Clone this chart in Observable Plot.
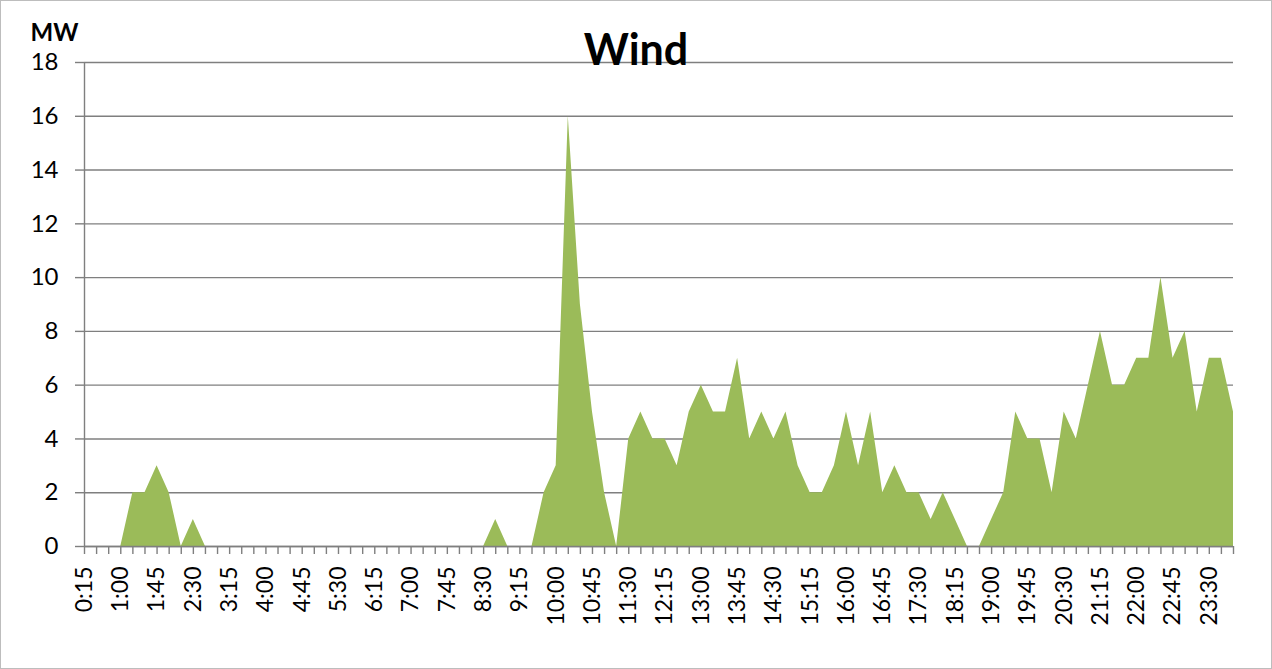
<!DOCTYPE html>
<html>
<head>
<meta charset="utf-8">
<script src="https://cdn.jsdelivr.net/npm/d3@7"></script>
<script src="https://cdn.jsdelivr.net/npm/@observablehq/plot@0.6"></script>
<style>
  html, body { margin: 0; padding: 0; background: #fff; }
  #wrap { position: relative; width: 1272px; height: 669px; overflow: hidden; }
  #border { position: absolute; left: 0; top: 0; width: 1270px; height: 667px; border: 1px solid #bdbdbd; pointer-events: none; }
  svg { display: block; }
</style>
</head>
<body>
<div id="wrap"><div id="chart"></div><div id="border"></div></div>
<script>
const title = "Wind";
const unitLabel = "MW";

const times = [
  "0:15","0:30","0:45","1:00","1:15","1:30","1:45","2:00","2:15","2:30","2:45","3:00",
  "3:15","3:30","3:45","4:00","4:15","4:30","4:45","5:00","5:15","5:30","5:45","6:00",
  "6:15","6:30","6:45","7:00","7:15","7:30","7:45","8:00","8:15","8:30","8:45","9:00",
  "9:15","9:30","9:45","10:00","10:15","10:30","10:45","11:00","11:15","11:30","11:45","12:00",
  "12:15","12:30","12:45","13:00","13:15","13:30","13:45","14:00","14:15","14:30","14:45","15:00",
  "15:15","15:30","15:45","16:00","16:15","16:30","16:45","17:00","17:15","17:30","17:45","18:00",
  "18:15","18:30","18:45","19:00","19:15","19:30","19:45","20:00","20:15","20:30","20:45","21:00",
  "21:15","21:30","21:45","22:00","22:15","22:30","22:45","23:00","23:15","23:30","23:45","24:00"
];

const windMW = [
  0,0,0,0,2,2,3,2,0,1,0,0,
  0,0,0,0,0,0,0,0,0,0,0,0,
  0,0,0,0,0,0,0,0,0,0,1,0,
  0,0,2,3,16,9,5,2,0,4,5,4,
  4,3,5,6,5,5,7,4,5,4,5,3,
  2,2,3,5,3,5,2,3,2,2,1,2,
  1,0,0,1,2,5,4,4,2,5,4,6,
  8,6,6,7,7,10,7,8,5,7,7,5
];

const xTickLabels = [
  "0:15","1:00","1:45","2:30","3:15","4:00","4:45","5:30","6:15","7:00","7:45","8:30",
  "9:15","10:00","10:45","11:30","12:15","13:00","13:45","14:30","15:15","16:00","16:45","17:30",
  "18:15","19:00","19:45","20:30","21:15","22:00","22:45","23:30"
];

const yTicks = [0, 2, 4, 6, 8, 10, 12, 14, 16, 18];

const data = times.map((t, i) => ({i, time: t, mw: windMW[i]}));
const labelIdx = xTickLabels.map(l => times.indexOf(l));

const grey = "#7f7f7f";

const chart = Plot.plot({
  width: 1272,
  height: 669,
  marginLeft: 84,
  marginRight: 39,
  marginTop: 62,
  marginBottom: 123,
  style: {fontFamily: "Lato, 'Open Sans', sans-serif", fontSize: "24px", color: "#000", background: "#fff"},
  x: {type: "linear", domain: [0, times.length - 1]},
  y: {domain: [0, 18]},
  marks: [
    Plot.gridY(yTicks, {stroke: grey, strokeOpacity: 1, strokeWidth: 1.4}),
    Plot.areaY(data, {x: "i", y: "mw", fill: "#9BBB59", curve: "linear"}),
    Plot.ruleX([0], {stroke: grey, strokeWidth: 1.4}),
    Plot.ruleY([0], {stroke: grey, strokeWidth: 1.4}),
    Plot.axisY({ticks: yTicks, tickSize: 9, tickPadding: 17, stroke: grey, strokeWidth: 1.4, fontSize: 24, label: null, fill: "#000"}),
    Plot.axisX({ticks: data.map(d => d.i), tickSize: 8, tickFormat: () => "", stroke: grey, strokeWidth: 1.4, label: null}),
    Plot.axisX({ticks: labelIdx, tickSize: 0, tickPadding: 20, tickRotate: -90, tickFormat: i => times[i], fontSize: 23, label: null, fill: "#000"}),
    Plot.text([title], {frameAnchor: "top", dx: -23, dy: 2, lineAnchor: "bottom", text: d => d, fontSize: 43, fontWeight: "bold", fill: "#000"}),
    Plot.text([unitLabel], {frameAnchor: "top-left", dx: -54, dy: -22, lineAnchor: "bottom", textAnchor: "start", text: d => d, fontSize: 24, fontWeight: "bold", fill: "#000"})
  ]
});
document.getElementById("chart").appendChild(chart);
</script>
</body>
</html>
